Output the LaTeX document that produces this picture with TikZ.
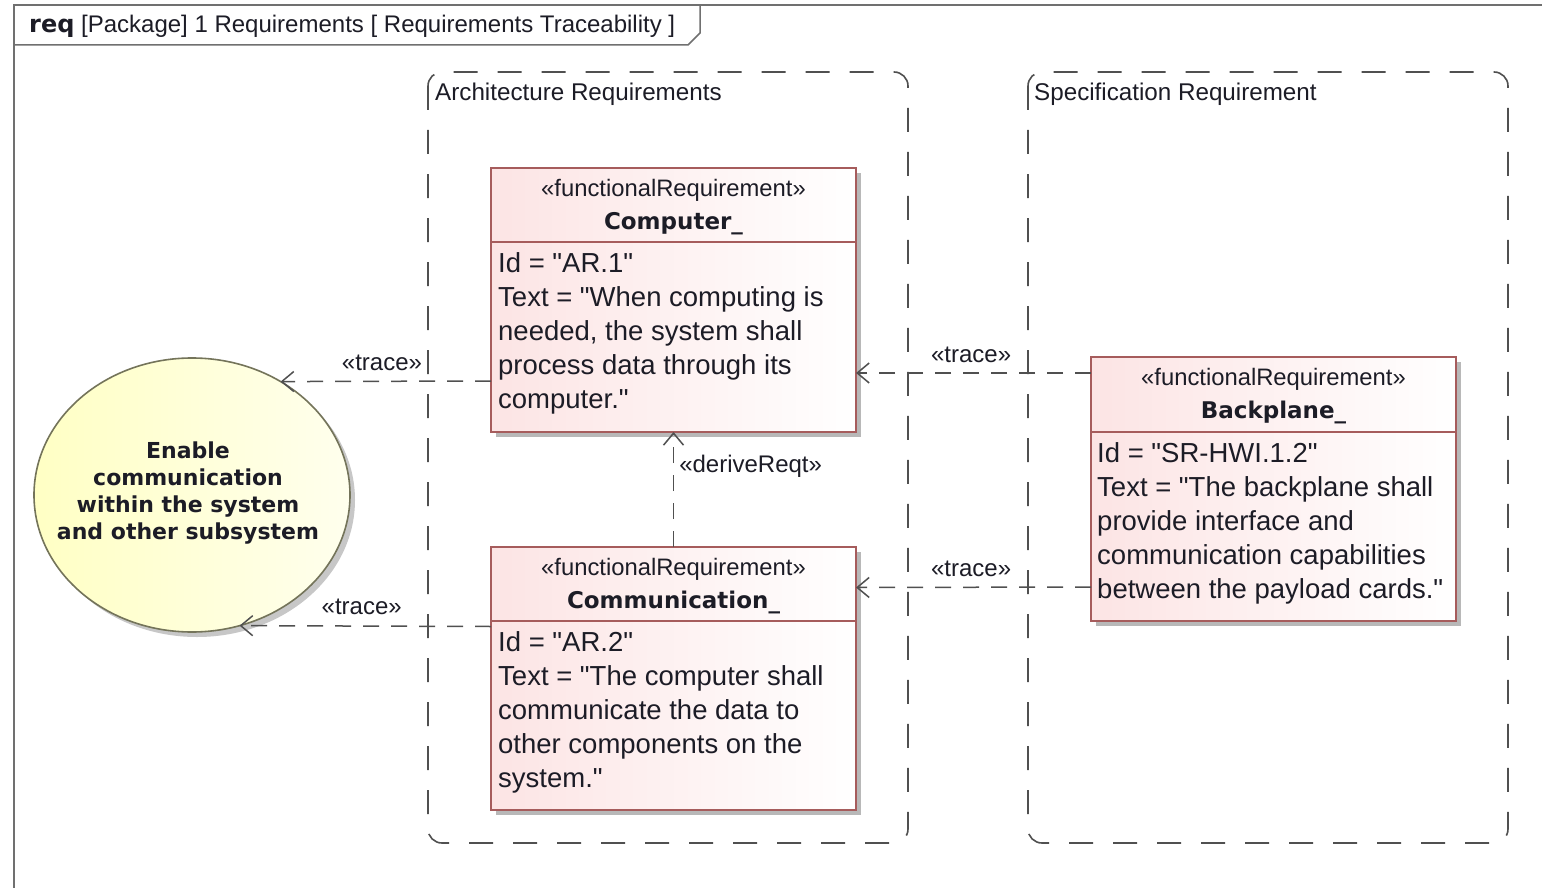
\documentclass[tikz,border=0pt]{standalone}
\usepackage{fontspec}
\setmainfont{Liberation Sans}[Ligatures=TeXOff]
\newfontfamily\headfont{DejaVu Sans}
\usepackage{tikz}
\usetikzlibrary{arrows.meta,positioning,shapes.geometric,shadows}
\definecolor{reqborder}{HTML}{A65C5C}
\definecolor{reqfill}{HTML}{FCE4E4}
\definecolor{goalborder}{HTML}{74745A}
\definecolor{goalfill}{HTML}{FFFFC4}
\definecolor{pkgline}{HTML}{505050}
\definecolor{frameline}{HTML}{707070}
\definecolor{inktext}{HTML}{1C1C26}
\tikzset{
  reqbox/.style={draw=reqborder,line width=1.6pt,left color=reqfill,right color=white,
    minimum width=365pt,minimum height=264pt,inner sep=0pt,outer sep=0pt,
    drop shadow={shadow xshift=5pt,shadow yshift=-5pt,fill=black!28,opacity=1}},
  stereo/.style={font=\fontsize{23.8}{26}\selectfont,text=inktext,anchor=base,inner sep=0pt},
  reqname/.style={font=\headfont\bfseries\fontsize{23}{26}\selectfont,text=inktext,anchor=base,inner sep=0pt},
  reqtext/.style={font=\fontsize{27.5}{34}\selectfont,text=inktext,align=left,anchor=north west,inner sep=0pt},
  goal/.style={ellipse,draw=goalborder,line width=1.6pt,left color=goalfill,right color=goalfill!30,
    minimum width=316pt,minimum height=274pt,inner sep=0pt,outer sep=0pt,
    drop shadow={shadow xshift=5pt,shadow yshift=-5pt,fill=black!22,opacity=1}},
  goaltext/.style={align=center,inner sep=0pt,text=inktext,
    font=\headfont\bfseries\fontsize{22}{27}\selectfont},
  pkg/.style={draw=pkgline,line width=1.6pt,dash pattern=on 24pt off 20pt,rounded corners=14pt},
  pkglabel/.style={font=\fontsize{24.2}{26}\selectfont,text=inktext,anchor=base west,inner sep=0pt},
  trace/.style={draw=pkgline,line width=1.5pt,dash pattern=on 16pt off 12pt,
    -{Straight Barb[length=12pt,width=20pt]}},
  lbl/.style={font=\fontsize{24}{26}\selectfont,text=inktext,inner sep=3pt}
}
\begin{document}
\begin{tikzpicture}[x=1pt,y=-1pt]
  \useasboundingbox (0,0) rectangle (1542,888);
  \fill[white] (0,0) rectangle (1542,888);
  % Diagram frame and name tab
  \draw[frameline,line width=1.5pt] (14,888) -- (14,5) -- (1542,5);
  \draw[frameline,line width=1.5pt] (14,45) -- (688,45) -- (700,33) -- (700,5);
  \node[font=\fontsize{24}{26}\selectfont,text=inktext,anchor=base west,inner sep=0pt] (title) at (29,33)
    {{\headfont\bfseries req} [Package] 1 Requirements [ Requirements Traceability ]};
  % Packages
  \draw[pkg] (428,72) rectangle (908,843);
  \node[pkglabel] (archlbl) at (435,101) {Architecture Requirements};
  \draw[pkg] (1028,72) rectangle (1508,843);
  \node[pkglabel] (speclbl) at (1034,101) {Specification Requirement};
  % Goal
  \node[goal] (goal) at (192,495) {};
  \node[goaltext] (goaltx) at ([xshift=-4pt,yshift=2pt]goal.center)
    {Enable\\communication\\within the system\\and other subsystem};
  % Computer_
  \node[reqbox,anchor=north west] (comp) at (491,168) {};
  \node[stereo] (compst) at ([yshift=-28pt]comp.north) {«functionalRequirement»};
  \node[reqname] (compnm) at ([yshift=-61pt]comp.north) {Computer\_};
  \draw[reqborder,line width=1.6pt] ([yshift=-74pt]comp.north west) -- ([yshift=-74pt]comp.north east);
  \node[reqtext] (comptx) at ([xshift=7pt,yshift=-84pt]comp.north west)
    {Id = "AR.1"\\Text = "When computing is\\needed, the system shall\\process data through its\\computer."};
  % Communication_
  \node[reqbox,anchor=north west,minimum height=263pt] (comm) at (491,547) {};
  \node[stereo] (commst) at ([yshift=-28pt]comm.north) {«functionalRequirement»};
  \node[reqname] (commnm) at ([yshift=-61pt]comm.north) {Communication\_};
  \draw[reqborder,line width=1.6pt] ([yshift=-74pt]comm.north west) -- ([yshift=-74pt]comm.north east);
  \node[reqtext] (commtx) at ([xshift=7pt,yshift=-84pt]comm.north west)
    {Id = "AR.2"\\Text = "The computer shall\\communicate the data to\\other components on the\\system."};
  % Backplane_
  \node[reqbox,anchor=north west] (back) at (1091,357) {};
  \node[stereo] (backst) at ([yshift=-28pt]back.north) {«functionalRequirement»};
  \node[reqname] (backnm) at ([yshift=-61pt]back.north) {Backplane\_};
  \draw[reqborder,line width=1.6pt] ([yshift=-75pt]back.north west) -- ([yshift=-75pt]back.north east);
  \node[reqtext] (backtx) at ([xshift=6pt,yshift=-85pt]back.north west)
    {Id = "SR-HWI.1.2"\\Text = "The backplane shall\\provide interface and\\communication capabilities\\between the payload cards."};
  % Relations
  \draw[trace] ([yshift=-81pt]comp.west) -- (goal.52)
    node[lbl,pos=0.31,anchor=south east,yshift=7pt] {«trace»};
  \draw[trace] ([yshift=52pt]comm.west) -- (goal.-70.6)
    node[lbl,pos=0.34,anchor=south east,yshift=8pt] {«trace»};
  \draw[trace] (comm.north) -- (comp.south)
    node[lbl,pos=0.7,anchor=west,xshift=2pt] {«deriveReqt»};
  \draw[trace] ([yshift=116pt]back.west) -- ([yshift=-73pt]comp.east)
    node[lbl,pos=0.51,above,yshift=7pt] {«trace»};
  \draw[trace] ([yshift=-98pt]back.west) -- ([yshift=91pt]comm.east)
    node[lbl,pos=0.51,above,yshift=7pt] {«trace»};
\end{tikzpicture}
\end{document}
